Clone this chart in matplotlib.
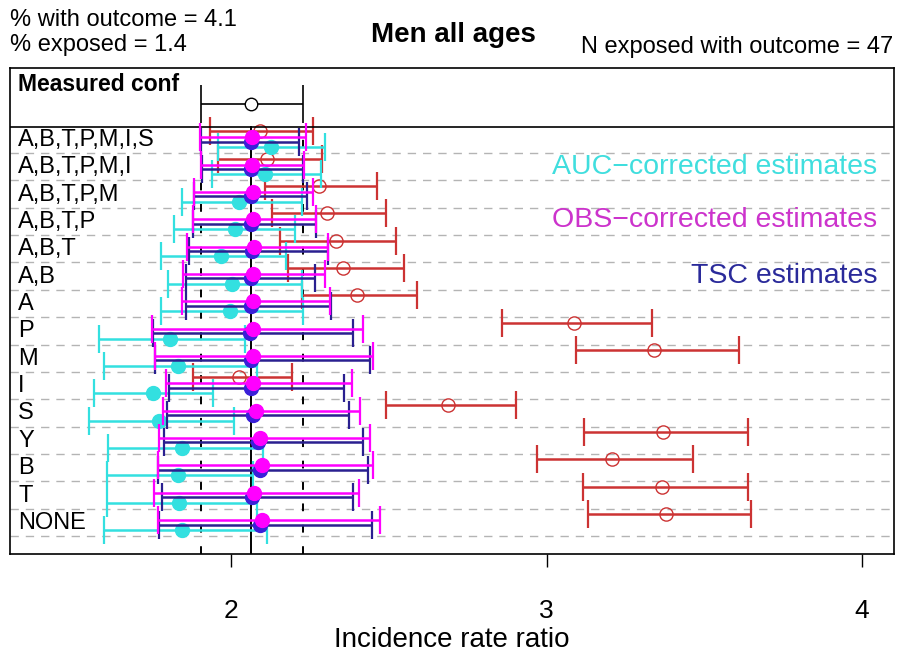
import matplotlib
matplotlib.use("Agg")
import matplotlib.pyplot as plt
import numpy as np

plt.rcParams['font.family'] = ['Liberation Sans', 'DejaVu Sans']

labels = ["A,B,T,P,M,I,S", "A,B,T,P,M,I", "A,B,T,P,M", "A,B,T,P", "A,B,T", "A,B", "A",
          "P", "M", "I", "S", "Y", "B", "T", "NONE"]

red_est = [2.092, 2.114, 2.279, 2.304, 2.333, 2.355, 2.399, 3.087, 3.341, 2.025, 2.688, 3.369, 3.208, 3.366, 3.379]
red_lo = [1.933, 1.959, 2.108, 2.130, 2.155, 2.181, 2.225, 2.859, 3.094, 1.880, 2.491, 3.119, 2.970, 3.116, 3.132]
red_hi = [2.260, 2.288, 2.463, 2.491, 2.523, 2.548, 2.590, 3.334, 3.610, 2.193, 2.903, 3.639, 3.464, 3.639, 3.648]

obs_est = [2.067, 2.067, 2.070, 2.070, 2.073, 2.070, 2.070, 2.070, 2.070, 2.070, 2.079, 2.092, 2.098, 2.073, 2.098]
obs_lo = [1.902, 1.905, 1.883, 1.880, 1.861, 1.848, 1.845, 1.750, 1.759, 1.794, 1.784, 1.772, 1.769, 1.756, 1.769]
obs_hi = [2.238, 2.231, 2.260, 2.269, 2.307, 2.298, 2.314, 2.418, 2.450, 2.384, 2.409, 2.441, 2.450, 2.406, 2.472]

tsc_est = [2.063, 2.063, 2.063, 2.063, 2.067, 2.063, 2.063, 2.060, 2.063, 2.063, 2.070, 2.085, 2.092, 2.067, 2.092]
tsc_lo = [1.905, 1.908, 1.883, 1.880, 1.867, 1.857, 1.857, 1.753, 1.759, 1.803, 1.797, 1.788, 1.769, 1.781, 1.772]
tsc_hi = [2.216, 2.228, 2.241, 2.269, 2.307, 2.266, 2.317, 2.387, 2.441, 2.358, 2.374, 2.418, 2.434, 2.387, 2.447]

auc_est = [2.127, 2.108, 2.025, 2.013, 1.968, 2.003, 1.997, 1.807, 1.832, 1.753, 1.772, 1.845, 1.832, 1.835, 1.845]
auc_lo = [1.959, 1.940, 1.845, 1.819, 1.778, 1.800, 1.778, 1.582, 1.597, 1.566, 1.550, 1.610, 1.607, 1.607, 1.597]
auc_hi = [2.298, 2.285, 2.225, 2.203, 2.174, 2.225, 2.228, 2.044, 2.082, 1.943, 2.010, 2.101, 2.070, 2.082, 2.114]

meas_est, meas_lo, meas_hi = 2.063, 1.905, 2.228

xticks = [2, 3, 4]

RED = "#cc3333"
MAG = "#ff00ff"
BLUE_L = "#2a2090"
BLUE_P = "#3a20d8"
CYAN = "#33e0e0"

fig = plt.figure(figsize=(8.97, 6.55), dpi=100)
ax = fig.add_axes([0.0111, 0.1542, 0.9856, 0.7420])

n = len(labels)
base = np.arange(n, 0, -1)  # dashed line positions, top row = n

for b in base:
    ax.axhline(b, color="#b4b4b4", lw=1.0, ls=(0, (6, 5)), zorder=1)

ytop_lower = 15.95
ax.axhline(ytop_lower, color="black", lw=1.2, zorder=5)

ax.plot([meas_est, meas_est], [0.34, ytop_lower], color="black", lw=1.4, zorder=2)
for v in (meas_lo, meas_hi):
    ax.plot([v, v], [0.34, ytop_lower], color="black", lw=1.4, ls=(0, (4, 7)), zorder=2)

def ci(est, lo, hi, y, color, pcolor, marker, mfc, ms, z):
    est = np.asarray(est); lo = np.asarray(lo); hi = np.asarray(hi)
    ax.errorbar(est, y, xerr=[est - lo, hi - est], fmt='none', ecolor=color,
                elinewidth=1.8, capsize=10, capthick=1.6, zorder=z)
    ax.plot(est, y, ls='none', marker=marker, ms=ms, mfc=mfc, mec=pcolor,
            mew=1.0, zorder=z + 0.5)

ci(red_est, red_lo, red_hi, base + 0.80, RED, RED, 'o', 'none', 9.5, 3)
ci(auc_est, auc_lo, auc_hi, base + 0.22, CYAN, CYAN, 'o', CYAN, 10, 4)
ci(tsc_est, tsc_lo, tsc_hi, base + 0.42, BLUE_L, BLUE_P, 'o', BLUE_P, 10, 6)
ci(obs_est, obs_lo, obs_hi, base + 0.58, MAG, MAG, 'o', MAG, 10, 7)

# measured panel
ax.errorbar([meas_est], [16.80], xerr=[[meas_est - meas_lo], [meas_hi - meas_est]],
            fmt='none', ecolor="black", elinewidth=1.2, capsize=14, capthick=1.2, zorder=5)
ax.plot([meas_est], [16.80], ls='none', marker='o', ms=9, mfc='white', mec='black', mew=1.0, zorder=6)
ax.text(1.325, 17.5, "Measured conf", fontsize=16.5, fontweight='bold', va='center', ha='left')

for b, lab in zip(base, labels):
    ax.text(1.325, b + 0.48, lab, fontsize=17, va='center', ha='left', zorder=8)

ax.text(4.048, 14.49, "AUC\u2212corrected estimates", color="#40dede", fontsize=20.5, ha='right', va='center')
ax.text(4.048, 12.55, "OBS\u2212corrected estimates", color="#cc33cc", fontsize=20.5, ha='right', va='center')
ax.text(4.048, 10.51, "TSC estimates", color="#2a2a9a", fontsize=20.5, ha='right', va='center')

ax.set_xlim(1.2995, 4.101)
ax.set_ylim(0.342, 18.11)
ax.set_yticks([])
ax.set_xticks(xticks)
ax.set_xticklabels([str(t) for t in xticks], fontsize=19)
ax.tick_params(axis='x', length=9.5, width=1.0, pad=23)
for s in ax.spines.values():
    s.set_linewidth(1.2)
ax.set_xlabel("Incidence rate ratio", fontsize=20, labelpad=3)

fig.text(0.0111, 0.969, "% with outcome = 4.1", fontsize=17, ha='left', va='center')
fig.text(0.0111, 0.931, "% exposed = 1.4", fontsize=17, ha='left', va='center')
fig.text(0.506, 0.947, "Men all ages", fontsize=20, fontweight='bold', ha='center', va='center')
fig.text(0.996, 0.928, "N exposed with outcome = 47", fontsize=17, ha='right', va='center')

fig.savefig("out.png", dpi=100)
